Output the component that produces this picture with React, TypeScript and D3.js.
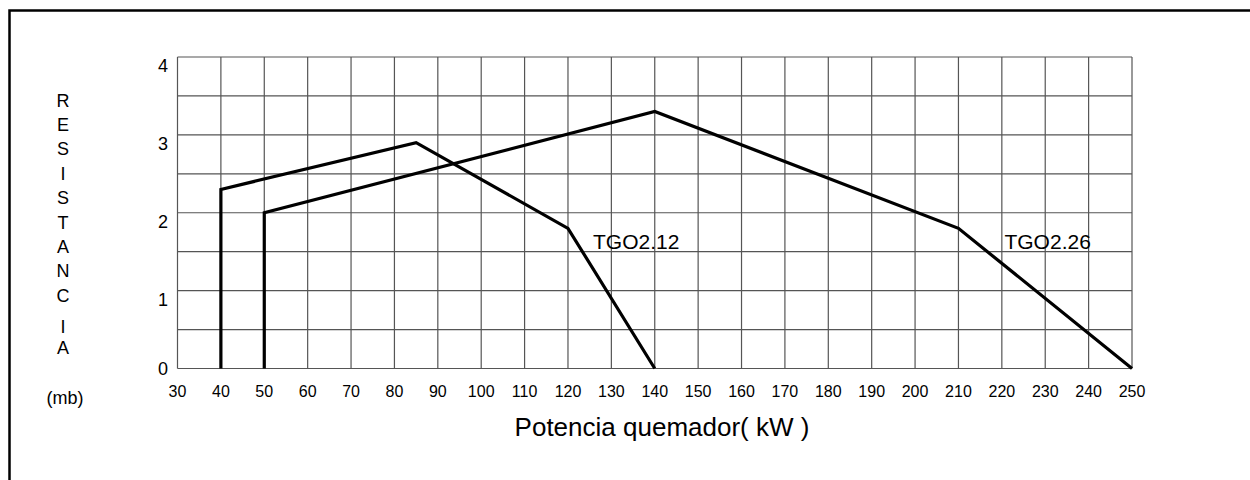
import { scaleLinear, line, range } from "d3";

const xTicks = range(30, 251, 10);
const yTicks = [0, 1, 2, 3, 4];
const yGrid = range(0, 4.01, 0.5);

const seriesNames = ["TGO2.12", "TGO2.26"];
const tgo212X = [40, 40, 85, 120, 140];
const tgo212Y = [0, 2.3, 2.9, 1.8, 0];
const tgo226X = [50, 50, 140, 210, 250];
const tgo226Y = [0, 2.0, 3.3, 1.8, 0];

const axisTitleLetters = ["R", "E", "S", "I", "S", "T", "A", "N", "C", "I", "A"];

const font = "'Liberation Sans', Arial, sans-serif";

const x = scaleLinear().domain([30, 250]).range([177.5, 1132]);
const y = scaleLinear().domain([0, 4]).range([368.5, 57]);

const pathOf = line<[number, number]>()
  .x((d) => x(d[0]))
  .y((d) => y(d[1]));

const series = [
  { name: seriesNames[0], pts: tgo212X.map((v, i) => [v, tgo212Y[i]] as [number, number]), dx: 25, dy: 21 },
  { name: seriesNames[1], pts: tgo226X.map((v, i) => [v, tgo226Y[i]] as [number, number]), dx: 46, dy: 21 },
];

// letter centres: even steps, then the split "I A" sits a bit tighter
const letterY = (i: number) => (i < 9 ? 100 + i * 24.4 : i === 9 ? 326 : 347);

export default function App() {
  return (
    <svg
      width={1250}
      height={480}
      style={{ position: "absolute", left: 0, top: 0, background: "#fff" }}
      fontFamily={font}
    >
      <rect x={9.5} y={10.5} width={1300} height={500} fill="none" stroke="#000" strokeWidth={2.5} />

      {/* grid */}
      <g stroke="#555" strokeWidth={1.2}>
        {yGrid.map((v) => (
          <line key={"h" + v} x1={x(30)} x2={x(250)} y1={y(v)} y2={y(v)} />
        ))}
        {xTicks.map((v) => (
          <line key={"v" + v} x1={x(v)} x2={x(v)} y1={y(4)} y2={y(0)} />
        ))}
      </g>

      {/* y tick labels */}
      <g fontSize={18} textAnchor="end">
        {yTicks.map((v) => (
          <text key={v} x={168} y={v === 0 ? y(v) + 6 : y(v) + 15}>
            {v}
          </text>
        ))}
      </g>

      {/* x tick labels */}
      <g fontSize={16} textAnchor="middle">
        {xTicks.map((v) => (
          <text key={v} x={x(v)} y={397}>
            {v}
          </text>
        ))}
      </g>

      <text x={662} y={436} fontSize={26} textAnchor="middle">
        Potencia quemador( kW )
      </text>

      {/* vertical axis title */}
      <g fontSize={18} textAnchor="middle">
        {axisTitleLetters.map((c, i) => (
          <text key={i} x={63} y={letterY(i) + 6.5}>
            {c}
          </text>
        ))}
        <text x={65} y={404}>
          (mb)
        </text>
      </g>

      {/* series */}
      {series.map((s) => (
        <g key={s.name}>
          <path d={pathOf(s.pts) || ""} fill="none" stroke="#000" strokeWidth={3.2} strokeLinejoin="miter" />
          <text x={x(s.pts[3][0]) + s.dx} y={y(s.pts[3][1]) + s.dy} fontSize={21}>
            {s.name}
          </text>
        </g>
      ))}
    </svg>
  );
}
